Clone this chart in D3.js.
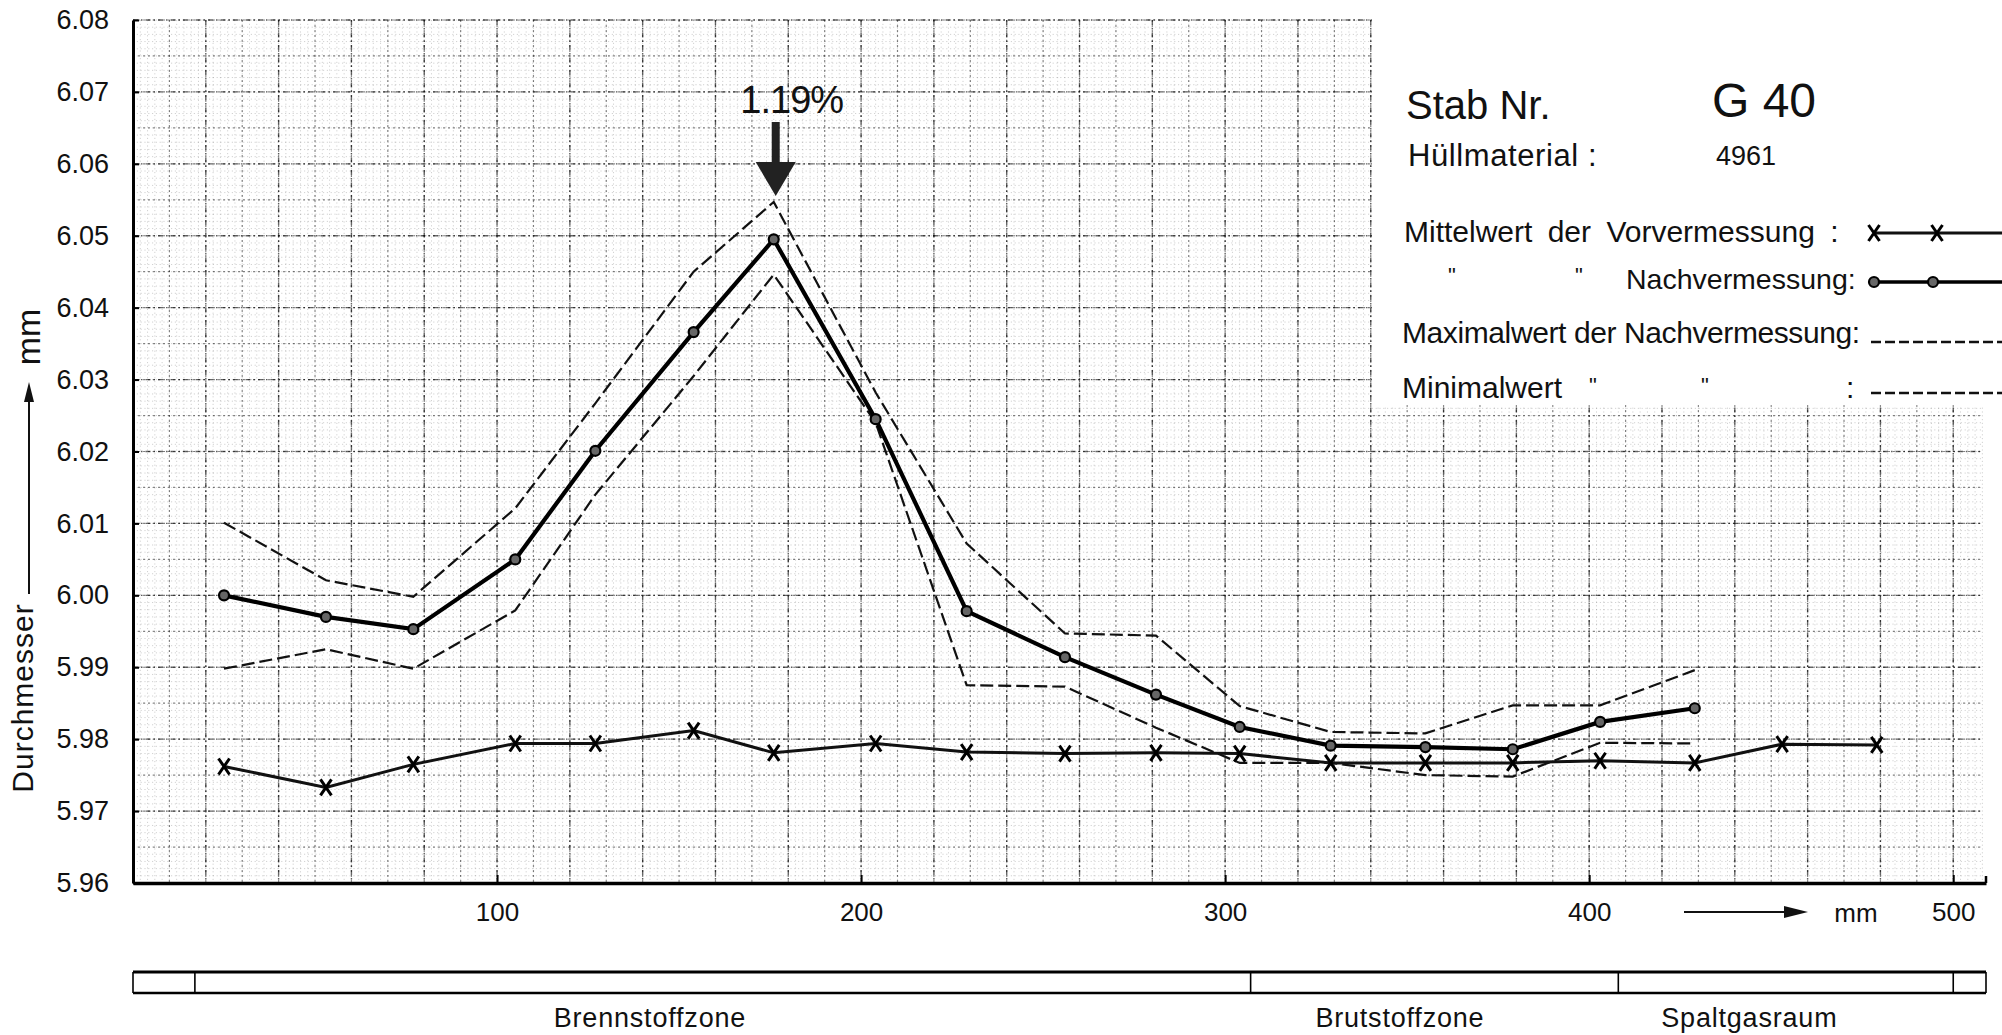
<!DOCTYPE html>
<html>
<head>
<meta charset="utf-8">
<script src="https://cdn.jsdelivr.net/npm/d3@7"></script>
<style>
  body { margin: 0; background: #fff; }
  svg { display: block; font-family: "Liberation Sans", Arial, sans-serif; }
</style>
</head>
<body>
<svg id="chart" width="2002" height="1035"></svg>
<script>
// measuring positions along the rod (mm)
const positions = [25, 53, 77, 105, 127, 154, 176, 204, 229, 256, 281, 304, 329, 355, 379, 403, 429, 453, 479];
// Mittelwert der Vorvermessung
const vorValues = [5.9762, 5.9733, 5.9765, 5.9794, 5.9794, 5.9812, 5.9781, 5.9794, 5.9782, 5.9780, 5.9781, 5.9780, 5.9767, 5.9767, 5.9767, 5.9770, 5.9767, 5.9793, 5.9792];
// Mittelwert der Nachvermessung
const nachValues = [6.0000, 5.9970, 5.9953, 6.0050, 6.0201, 6.0366, 6.0495, 6.0245, 5.9978, 5.9914, 5.9862, 5.9817, 5.9791, 5.9789, 5.9786, 5.9824, 5.9843];
// Maximal- / Minimalwert der Nachvermessung
const maxValues = [6.0101, 6.0021, 5.9998, 6.0121, 6.0267, 6.0450, 6.0547, 6.0282, 6.0072, 5.9947, 5.9944, 5.9846, 5.9810, 5.9808, 5.9847, 5.9847, 5.9896];
const minValues = [5.9898, 5.9925, 5.9898, 5.9979, 6.0140, 6.0305, 6.0446, 6.0240, 5.9875, 5.9873, 5.9816, 5.9767, 5.9767, 5.9750, 5.9748, 5.9795, 5.9794];

const yTicks = [5.96, 5.97, 5.98, 5.99, 6.00, 6.01, 6.02, 6.03, 6.04, 6.05, 6.06, 6.07, 6.08];
const xTicks = [100, 200, 300, 400, 500];

const zoneBounds = [0, 17, 307, 408, 500, 509];
const zoneNames = ['Brennstoffzone', 'Brutstoffzone', 'Spaltgasraum'];
const zoneLabelAt = [142, 348, 444];

const peakLabel = '1.19%';

const svg = d3.select('#chart');
const x = d3.scaleLinear().domain([0, 509]).range([133, 1986]);
const y = d3.scaleLinear().domain([5.96, 6.08]).range([883, 20]);

// ---- graph paper ----
const grid = svg.append('g').attr('class', 'grid');
function vLines(step, dash, op, w) {
  grid.append('g').selectAll('line')
    .data(d3.range(step, 509, step))
    .join('line')
    .attr('x1', d => x(d)).attr('x2', d => x(d))
    .attr('y1', y(6.08)).attr('y2', y(5.96))
    .attr('stroke', '#000').attr('stroke-opacity', op)
    .attr('stroke-width', w).attr('stroke-dasharray', dash);
}
function hLines(step, dash, op, w) {
  grid.append('g').selectAll('line')
    .data(d3.range(5960 + step, 6081, step).map(v => v / 1000))
    .join('line')
    .attr('x1', x(0)).attr('x2', x(508))
    .attr('y1', d => y(d)).attr('y2', d => y(d))
    .attr('stroke', '#000').attr('stroke-opacity', op)
    .attr('stroke-width', w).attr('stroke-dasharray', dash);
}
vLines(2, '1.2,2.6', 0.18, 1);
hLines(1, '1.2,2.6', 0.18, 1);
vLines(10, '2,3', 0.45, 1.2);
hLines(5, '2,3', 0.45, 1.2);
vLines(20, '5,3,1.5,3', 0.6, 1.4);
hLines(10, '5,3,1.5,3', 0.6, 1.4);

// legend area is blank paper
svg.append('rect').attr('x', 1372).attr('y', 0).attr('width', 630).attr('height', 405).attr('fill', '#fff');

// ---- axes ----
const yAxis = svg.append('g')
  .attr('transform', `translate(${x(0)},0)`)
  .call(d3.axisLeft(y).tickValues(yTicks).tickFormat(d3.format('.2f')).tickSize(-6).tickSizeOuter(0).tickPadding(24));
yAxis.select('.domain').attr('stroke-width', 3);
yAxis.selectAll('.tick line').attr('stroke-width', 2);
yAxis.selectAll('text').attr('font-size', 27).attr('fill', '#111');

const xAxis = svg.append('g')
  .attr('transform', `translate(0,${y(5.96)})`)
  .call(d3.axisBottom(x).tickValues(xTicks).tickSize(-8).tickSizeOuter(0).tickPadding(20));
xAxis.select('.domain').attr('stroke-width', 3.5);
xAxis.selectAll('.tick line').attr('stroke-width', 2);
xAxis.selectAll('text').attr('font-size', 26).attr('fill', '#111');
svg.append('line').attr('x1', x(509)).attr('x2', x(509)).attr('y1', y(5.96)).attr('y2', y(5.96) - 7)
  .attr('stroke', '#000').attr('stroke-width', 2.5);

// axis titles
svg.append('text').attr('transform', `translate(33,${698}) rotate(-90)`)
  .attr('text-anchor', 'middle').attr('font-size', 30).attr('letter-spacing', 1).attr('fill', '#111')
  .text('Durchmesser');
svg.append('line').attr('x1', 29).attr('x2', 29).attr('y1', 594).attr('y2', 398)
  .attr('stroke', '#111').attr('stroke-width', 2);
svg.append('path').attr('d', 'M29,382 L24,402 L34,402 Z').attr('fill', '#111');
svg.append('text').attr('transform', `translate(40,${337}) rotate(-90)`)
  .attr('text-anchor', 'middle').attr('font-size', 34).attr('fill', '#111')
  .text('mm');

svg.append('line').attr('x1', 1684).attr('x2', 1790).attr('y1', 912).attr('y2', 912)
  .attr('stroke', '#111').attr('stroke-width', 2.2);
svg.append('path').attr('d', 'M1808,912 L1784,906 L1784,918 Z').attr('fill', '#111');
svg.append('text').attr('x', 1856).attr('y', 922).attr('text-anchor', 'middle')
  .attr('font-size', 26).attr('fill', '#111').text('mm');

// ---- series ----
const plot = svg.append('g');
const line = d3.line().x(d => x(d[0])).y(d => y(d[1]));
const pairs = vals => vals.map((v, i) => [positions[i], v]);

plot.append('path').datum(pairs(maxValues)).attr('d', line)
  .attr('fill', 'none').attr('stroke', '#111').attr('stroke-width', 2.2).attr('stroke-dasharray', '13,5');
plot.append('path').datum(pairs(minValues)).attr('d', line)
  .attr('fill', 'none').attr('stroke', '#111').attr('stroke-width', 2.2).attr('stroke-dasharray', '13,5');
plot.append('path').datum(pairs(vorValues)).attr('d', line)
  .attr('fill', 'none').attr('stroke', '#111').attr('stroke-width', 3);
plot.append('path').datum(pairs(nachValues)).attr('d', line)
  .attr('fill', 'none').attr('stroke', '#000').attr('stroke-width', 4.2);

const crossPath = 'M-5.5,-8L5.5,8M-5.5,8L5.5,-8';
function drawCross(g, cx, cy) {
  g.append('path').attr('transform', `translate(${cx},${cy})`).attr('d', crossPath)
    .attr('stroke', '#000').attr('stroke-width', 3).attr('fill', 'none');
}
function drawCircle(g, cx, cy) {
  g.append('circle').attr('cx', cx).attr('cy', cy).attr('r', 5)
    .attr('fill', '#666').attr('stroke', '#000').attr('stroke-width', 2.2);
}
pairs(vorValues).forEach(d => drawCross(plot, x(d[0]), y(d[1])));
pairs(nachValues).forEach(d => drawCircle(plot, x(d[0]), y(d[1])));

// peak annotation
const peakIdx = d3.maxIndex(maxValues);
const px = x(positions[peakIdx]) + 2;
svg.append('text').attr('x', px + 16).attr('y', 113).attr('text-anchor', 'middle')
  .attr('font-size', 38).attr('letter-spacing', -1).attr('fill', '#111').text(peakLabel);
svg.append('rect').attr('x', px - 4).attr('y', 122).attr('width', 8).attr('height', 42).attr('fill', '#222');
svg.append('path').attr('d', `M${px - 20},162 L${px + 20},162 L${px},196 Z`).attr('fill', '#222');

// ---- zone bar ----
const zones = svg.append('g');
zones.append('line').attr('x1', x(0)).attr('x2', x(509)).attr('y1', 972).attr('y2', 972)
  .attr('stroke', '#000').attr('stroke-width', 3);
zones.append('line').attr('x1', x(0)).attr('x2', x(509)).attr('y1', 993).attr('y2', 993)
  .attr('stroke', '#000').attr('stroke-width', 2.5);
zones.selectAll('.sep').data(zoneBounds).join('line')
  .attr('x1', d => x(d)).attr('x2', d => x(d)).attr('y1', 972).attr('y2', 993)
  .attr('stroke', '#000').attr('stroke-width', 1.6);
zones.selectAll('.zl').data(zoneNames).join('text')
  .attr('x', (d, i) => x(zoneLabelAt[i])).attr('y', 1027).attr('text-anchor', 'middle')
  .attr('font-size', 27).attr('letter-spacing', 0.8).attr('fill', '#111').text(d => d);

// ---- legend ----
const lg = svg.append('g').attr('fill', '#111');
lg.append('text').attr('x', 1406).attr('y', 119).attr('font-size', 40).text('Stab Nr.');
lg.append('text').attr('x', 1712).attr('y', 117).attr('font-size', 48).text('G 40');
lg.append('text').attr('x', 1408).attr('y', 166).attr('font-size', 31).attr('letter-spacing', 0.6).text('Hüllmaterial :');
lg.append('text').attr('x', 1716).attr('y', 165).attr('font-size', 27).text('4961');

lg.append('text').attr('x', 1404).attr('y', 242).attr('font-size', 30).attr('word-spacing', 7).text('Mittelwert der Vorvermessung :');
lg.append('text').attr('x', 1448).attr('y', 283).attr('font-size', 22).text('"');
lg.append('text').attr('x', 1575).attr('y', 283).attr('font-size', 22).text('"');
lg.append('text').attr('x', 1626).attr('y', 289).attr('font-size', 28.5).text('Nachvermessung:');
lg.append('text').attr('x', 1402).attr('y', 343).attr('font-size', 30).attr('letter-spacing', -0.4).text('Maximalwert der Nachvermessung:');
lg.append('text').attr('x', 1402).attr('y', 398).attr('font-size', 30).text('Minimalwert');
lg.append('text').attr('x', 1589).attr('y', 393).attr('font-size', 22).text('"');
lg.append('text').attr('x', 1701).attr('y', 393).attr('font-size', 22).text('"');
lg.append('text').attr('x', 1846).attr('y', 398).attr('font-size', 30).text(':');

lg.append('line').attr('x1', 1874).attr('x2', 2002).attr('y1', 233).attr('y2', 233).attr('stroke', '#111').attr('stroke-width', 2.8);
drawCross(lg, 1874, 233);
drawCross(lg, 1937, 233);
lg.append('line').attr('x1', 1874).attr('x2', 2002).attr('y1', 282).attr('y2', 282).attr('stroke', '#000').attr('stroke-width', 3.4);
drawCircle(lg, 1874, 282);
drawCircle(lg, 1933, 282);
lg.append('line').attr('x1', 1871).attr('x2', 2002).attr('y1', 342).attr('y2', 342)
  .attr('stroke', '#111').attr('stroke-width', 2.4).attr('stroke-dasharray', '10,4');
lg.append('line').attr('x1', 1871).attr('x2', 2002).attr('y1', 393).attr('y2', 393)
  .attr('stroke', '#111').attr('stroke-width', 2.4).attr('stroke-dasharray', '10,4');
</script>
</body>
</html>
